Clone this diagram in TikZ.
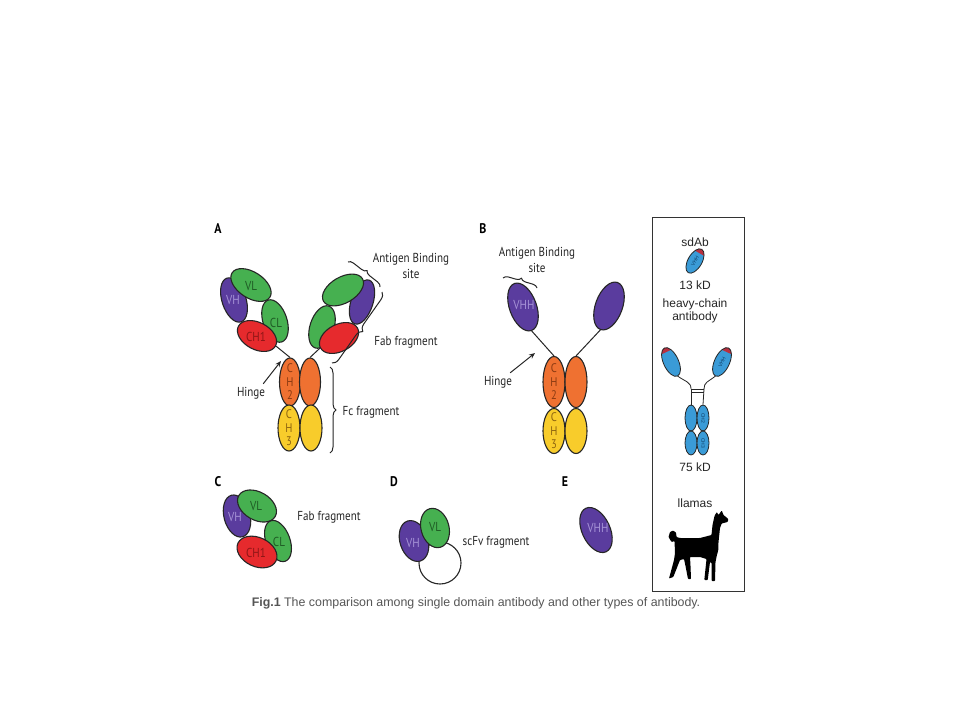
\documentclass[tikz,border=0pt]{standalone}
\usepackage{fontspec}
\setmainfont{Liberation Sans}
\newfontfamily\myr[FakeStretch=0.85]{PT Sans}
\usetikzlibrary{shapes.geometric,decorations.pathreplacing,arrows.meta}
\definecolor{vpur}{HTML}{5A3C9E}
\definecolor{vpurt}{HTML}{A592D6}
\definecolor{vgrn}{HTML}{46B050}
\definecolor{vgrnt}{HTML}{1F5C25}
\definecolor{vred}{HTML}{E62A2D}
\definecolor{vredt}{HTML}{8E1616}
\definecolor{vorg}{HTML}{EF7131}
\definecolor{vorgt}{HTML}{8A3A12}
\definecolor{vyel}{HTML}{F8CC2B}
\definecolor{vyelt}{HTML}{8C6410}
\definecolor{sblue}{HTML}{3A9BD7}
\definecolor{sbluet}{HTML}{0E3E66}
\definecolor{scap}{HTML}{B83040}
\definecolor{capt}{HTML}{555555}
\tikzset{
  dom/.style={ellipse, draw=black!85, line width=1.1pt, inner sep=0pt},
  sdom/.style={ellipse, draw=black!85, line width=0.8pt, inner sep=0pt, fill=sblue},
  dtxt/.style={font=\myr\fontsize{13}{13}\selectfont, inner sep=0pt},
  chtxt/.style={font=\myr\fontsize{12.5}{13.5}\selectfont, inner sep=0pt, align=center},
  lbl/.style={font=\myr\bfseries\fontsize{14}{14}\selectfont, inner sep=0pt},
  ann/.style={font=\myr\fontsize{13}{16}\selectfont, inner sep=0pt, align=center, text=black!85},
  boxt/.style={font=\fontsize{12}{13}\selectfont, inner sep=0pt, align=center, text=black!85},
  hingeline/.style={draw=black!85, line width=1pt},
  bracest/.style={draw=black!85, line width=1pt, decorate},
  arr/.style={draw=black!85, line width=1pt, -{Stealth[length=6pt,width=5pt]}},
  sline/.style={draw=black!85, line width=0.8pt},
}
% x, y, rotation, name, rx, ry, text rotation, text
\newcommand\capdom[8]{%
  \begin{scope}[shift={(#1,#2)}, rotate=#3]
    \fill[sblue] (0,0) ellipse [x radius=#5, y radius=#6];
    \begin{scope}
      \clip (0,0) ellipse [x radius=#5, y radius=#6];
      \fill[scap] (-10,-#6-2) rectangle (10,-#6+4.5);
    \end{scope}
    \draw[sline] (0,0) ellipse [x radius=#5, y radius=#6];
    \coordinate (#4-s) at (0,#6);
  \end{scope}
  \node[font=\fontsize{5}{5}\selectfont, text=sbluet, inner sep=0pt, rotate=#7] (#4) at (#1,#2) {#8};
}
\begin{document}
\begin{tikzpicture}[x=1pt, y=-1pt]
\useasboundingbox (0,0) rectangle (960,720);
\fill[white] (0,0) rectangle (960,720);

% ================= Panel A =================
\node[lbl] (tA) at (218,229) {A};
\node[dom, fill=vorg, minimum width=21pt, minimum height=48pt] (aCH2l) at (290,382) {};
\node[dom, fill=vorg, minimum width=21pt, minimum height=48pt] (aCH2r) at (310,382) {};
\node[dom, fill=vyel, minimum width=22pt, minimum height=46pt] (aCH3l) at (289,428) {};
\node[dom, fill=vyel, minimum width=22pt, minimum height=46pt] (aCH3r) at (311,428) {};
\node[chtxt, text=vorgt] at (aCH2l) {C\\H\\2};
\node[chtxt, text=vyelt] at (aCH3l) {C\\H\\3};
% left arm
\node[dom, fill=vpur, minimum width=24pt, minimum height=46pt, rotate=18] (aVHl) at (234,300) {};
\node[dom, fill=vgrn, minimum width=24pt, minimum height=44pt, rotate=18] (aCLl) at (275,321) {};
\node[dom, fill=vgrn, minimum width=45pt, minimum height=26pt, rotate=-33] (aVLl) at (251,285) {};
\node[dom, fill=vred, minimum width=42pt, minimum height=27pt, rotate=-28] (aCHl) at (257,336) {};
\node[dtxt, text=vpurt] at (233,300) {VH};
\node[dtxt, text=vgrnt] at (251,286) {VL};
\node[dtxt, text=vgrnt] at (276,323) {CL};
\node[dtxt, text=vredt] at (256,337) {CH1};
% right arm
\node[dom, fill=vpur, minimum width=22pt, minimum height=46pt, rotate=-18] (aVHr) at (362,302) {};
\node[dom, fill=vgrn, minimum width=24pt, minimum height=44pt, rotate=-18] (aCLr) at (322,327) {};
\node[dom, fill=vgrn, minimum width=45pt, minimum height=26pt, rotate=30] (aVLr) at (343,290) {};
\node[dom, fill=vred, minimum width=42pt, minimum height=27pt, rotate=28] (aCHr) at (339,338) {};
% hinge lines
\draw[hingeline] (aCHl.east) -- (aCH2l.north);
\draw[hingeline] (aCHr.west) -- (aCH2r.north);
% hinge label
\node[ann] (hA) at (251,393) {Hinge};
\coordinate (hAt) at (281,361);
\draw[arr] ([shift={(-2,-3)}]hA.north east) -- (hAt);
% braces
\coordinate (abA1) at (348,262);
\coordinate (abA2) at (380,287);
\draw[bracest, decoration={brace, amplitude=5pt}] (abA1) -- (abA2);
\node[ann] (tabA) at (411,266) {Antigen Binding\\site};
\coordinate (fbA1) at (382,292);
\coordinate (fbA2) at (332,363);
\draw[bracest, decoration={brace, amplitude=7pt}] (fbA1) -- (fbA2);
\node[ann] (tfbA) at (406,342) {Fab fragment};
\coordinate (fcA1) at (330,367);
\coordinate (fcA2) at (330,453);
\draw[bracest, decoration={brace, amplitude=6pt}] (fcA1) -- (fcA2);
\node[ann] (tfcA) at (371,412) {Fc fragment};

% ================= Panel B =================
\node[lbl] (tB) at (483,229) {B};
\node[dom, fill=vorg, minimum width=22pt, minimum height=51pt] (bCH2l) at (554,382) {};
\node[dom, fill=vorg, minimum width=22pt, minimum height=51pt] (bCH2r) at (576,382) {};
\node[dom, fill=vyel, minimum width=22pt, minimum height=45pt] (bCH3l) at (554,431) {};
\node[dom, fill=vyel, minimum width=22pt, minimum height=45pt] (bCH3r) at (576,431) {};
\node[chtxt, text=vorgt] at (bCH2l) {C\\H\\2};
\node[chtxt, text=vyelt] at (bCH3l) {C\\H\\3};
\node[dom, fill=vpur, minimum width=27pt, minimum height=50pt, rotate=20] (bVHl) at (523,307) {};
\node[dom, fill=vpur, minimum width=27pt, minimum height=50pt, rotate=-20] (bVHr) at (609,306) {};
\node[dtxt, text=vpurt] at (524,305) {VHH};
\draw[hingeline] (bVHl.south) -- (bCH2l.north);
\draw[hingeline] (bVHr.south) -- (bCH2r.north);
\node[ann] (hB) at (498,382) {Hinge};
\coordinate (hBt) at (535,353);
\draw[arr] ([shift={(-2,-3)}]hB.north east) -- (hBt);
\coordinate (abB1) at (503,278);
\coordinate (abB2) at (537,288);
\draw[bracest, decoration={brace, amplitude=5pt}] (abB1) -- (abB2);
\node[ann] (tabB) at (537,260) {Antigen Binding\\site};

% ================= Panel C =================
\node[lbl] (tC) at (218,482) {C};
\node[dom, fill=vpur, minimum width=26pt, minimum height=43pt, rotate=15] (cVH) at (237,516) {};
\node[dom, fill=vgrn, minimum width=24pt, minimum height=43pt, rotate=20] (cCL) at (278,541) {};
\node[dom, fill=vgrn, minimum width=42pt, minimum height=28pt, rotate=-30] (cVL) at (257,506) {};
\node[dom, fill=vred, minimum width=42pt, minimum height=29pt, rotate=-25] (cCH) at (257,552) {};
\node[dtxt, text=vpurt] at (235,517) {VH};
\node[dtxt, text=vgrnt] at (256,506) {VL};
\node[dtxt, text=vgrnt] at (279,542) {CL};
\node[dtxt, text=vredt] at (256,553) {CH1};
\node[ann] (tfC) at (329,517) {Fab fragment};

% ================= Panel D =================
\node[lbl] (tD) at (394,482) {D};
\node[circle, draw=black!85, line width=1.1pt, minimum size=42pt, inner sep=0pt] (dLoop) at (440,563) {};
\node[dom, fill=vpur, minimum width=28pt, minimum height=42pt, rotate=18] (dVH) at (414,541) {};
\node[dom, fill=vgrn, minimum width=28pt, minimum height=40pt, rotate=15] (dVL) at (435,528) {};
\node[dtxt, text=vpurt] at (413,543) {VH};
\node[dtxt, text=vgrnt] at (435,527) {VL};
\node[ann] (tfD) at (496,542) {scFv fragment};

% ================= Panel E =================
\node[lbl] (tE) at (565,482) {E};
\node[dom, fill=vpur, minimum width=28pt, minimum height=48pt, rotate=25] (eVHH) at (596,530) {};
\node[dtxt, text=vpurt] at (598,528) {VHH};

% ================= Box =================
\draw[draw=black!80, line width=1pt] (652,217) rectangle (744,591);
\node[boxt] (tsd) at (695,242) {sdAb};
\capdom{695}{261}{-30}{sdA}{7}{13.5}{60}{VHH}
\node[boxt] (t13) at (695,285) {13 kD};
\node[boxt] (thc) at (695,311) {heavy-chain\\antibody};
% heavy-chain antibody
\coordinate (bar1) at (691,389);
\coordinate (bar2) at (704,389);
\coordinate (bar3) at (691,392.5);
\coordinate (bar4) at (704,392.5);
\node[sdom, minimum width=12pt, minimum height=26pt] (hCH2l) at (691,418) {};
\node[sdom, minimum width=12pt, minimum height=26pt] (hCH2r) at (703,418) {};
\node[sdom, minimum width=12pt, minimum height=24pt] (hCH3l) at (691,443) {};
\node[sdom, minimum width=12pt, minimum height=24pt] (hCH3r) at (703,443) {};
\node[font=\fontsize{5}{5}\selectfont, text=sbluet, inner sep=0pt, rotate=-90] at (hCH2r) {CH2};
\node[font=\fontsize{5}{5}\selectfont, text=sbluet, inner sep=0pt, rotate=-90] at (hCH3r) {CH3};
\capdom{671}{362}{25}{hVl}{7.5}{15.5}{115}{}
\capdom{722}{362}{-25}{hVr}{7.5}{15.5}{65}{VHH}
\draw[sline] (hVl-s) .. controls (686,382) and (691,382) .. (bar1);
\draw[sline] (hVr-s) .. controls (708,382) and (704,382) .. (bar2);
\draw[sline] (bar1) -- (bar2);
\draw[sline] (bar3) -- (bar4);
\draw[sline] (bar1) -- (hCH2l.north);
\draw[sline] (bar2) -- (hCH2r.north);
\node[boxt] (t75) at (695,467) {75 kD};
\node[boxt] (tll) at (695,503) {llamas};
% llama silhouette
\fill[black, rounded corners=0.7pt] (716.7,512) -- (718.5,515) -- (721.7,510.5) -- (723.5,515)
  -- (728.3,519) -- (727.7,522) -- (721.7,523.5) -- (720,528) -- (718.5,542) -- (718.3,550)
  -- (716.7,556) -- (715.5,562) -- (715,581) -- (711.7,581) -- (711.7,563) -- (710,562)
  -- (707.7,580) -- (704.3,580) -- (706.5,559) -- (700,557) -- (690,557) -- (690.5,566)
  -- (691,579) -- (688,579) -- (685.5,566) -- (684,559) -- (680,560) -- (673.3,577)
  -- (669,578.5) -- (674,560) -- (675,553) -- (674.5,541) -- (671.5,542) -- (668.5,537)
  -- (670,532) -- (673,530.5) -- (676,532.5) -- (676.5,537) -- (680,538) -- (700,538)
  -- (711.5,535) -- (712.5,525) -- (714.5,516) -- cycle;

% ================= Caption =================
\node[font=\fontsize{12.4}{12.4}\selectfont, text=capt, inner sep=0pt] (cap) at (476,603)
  {\textbf{Fig.1} The comparison among single domain antibody and other types of antibody.};
\end{tikzpicture}
\end{document}
